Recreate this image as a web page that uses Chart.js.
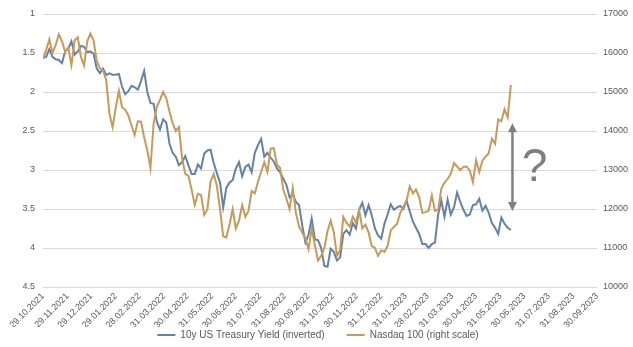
<!DOCTYPE html>
<html>
<head>
<meta charset="utf-8">
<script src="https://cdn.jsdelivr.net/npm/chart.js@4/dist/chart.umd.min.js"></script>
<style>
  body { margin: 0; background: #fff; }
  #wrap { width: 633px; height: 347px; }
</style>
</head>
<body>
<div id="wrap"><canvas id="chart" width="633" height="347"></canvas></div>
<script>
// day offsets from 29.10.2021
let days = [
  0, 4, 8, 12, 16, 20, 24, 28, 32, 36,
  40, 44, 48, 52, 56, 60, 64, 68, 72, 76,
  80, 84, 88, 92, 96, 100, 104, 108, 112, 116,
  120, 124, 128, 132, 136, 140, 144, 148, 152, 156,
  160, 164, 168, 172, 176, 180, 184, 188, 192, 196,
  200, 204, 208, 212, 216, 220, 224, 228, 232, 236,
  240, 244, 248, 252, 256, 260, 264, 268, 272, 276,
  280, 284, 288, 292, 296, 300, 304, 308, 312, 316,
  320, 324, 328, 332, 336, 340, 344, 348, 352, 356,
  360, 364, 368, 372, 376, 380, 384, 388, 392, 396,
  400, 404, 408, 412, 416, 420, 424, 428, 432, 436,
  440, 444, 448, 452, 456, 460, 464, 468, 472, 476,
  480, 484, 488, 492, 496, 500, 504, 508, 512, 516,
  520, 524, 528, 532, 536, 540, 544, 548, 552, 556,
  560, 564, 568, 572, 576, 580, 584, 588, 592
];

// 10y US Treasury yield, %
let yields = [
  1.56, 1.55, 1.45, 1.55, 1.58, 1.59, 1.63, 1.48, 1.44, 1.35,
  1.52, 1.48, 1.41, 1.42, 1.49, 1.48, 1.51, 1.70, 1.76, 1.70,
  1.78, 1.76, 1.78, 1.78, 1.77, 1.93, 2.03, 1.99, 1.92, 1.94,
  1.97, 1.86, 1.73, 2.00, 2.14, 2.15, 2.38, 2.48, 2.35, 2.39,
  2.66, 2.78, 2.83, 2.94, 2.90, 2.82, 2.94, 3.05, 3.05, 2.93,
  2.98, 2.79, 2.75, 2.74, 2.91, 3.04, 3.16, 3.48, 3.23, 3.16,
  3.13, 2.98, 2.90, 3.08, 2.96, 2.93, 3.03, 2.78, 2.68, 2.60,
  2.83, 2.78, 2.84, 2.89, 2.98, 3.03, 3.11, 3.19, 3.35, 3.31,
  3.41, 3.45, 3.71, 3.93, 3.83, 3.62, 3.89, 3.90, 4.00, 4.23,
  4.24, 4.01, 4.05, 4.16, 4.12, 3.82, 3.77, 3.83, 3.68, 3.75,
  3.51, 3.42, 3.58, 3.45, 3.58, 3.75, 3.84, 3.88, 3.69, 3.57,
  3.44, 3.51, 3.48, 3.46, 3.50, 3.39, 3.53, 3.66, 3.74, 3.82,
  3.95, 3.95, 4.00, 3.95, 3.93, 3.57, 3.39, 3.60, 3.38, 3.57,
  3.48, 3.29, 3.41, 3.51, 3.59, 3.57, 3.45, 3.44, 3.37, 3.52,
  3.46, 3.55, 3.68, 3.74, 3.82, 3.61, 3.69, 3.74, 3.77
];

// Nasdaq 100 index level
let nasdaq = [
  15850, 16080, 16350, 16000, 16200, 16480, 16300, 16030, 16135, 15690,
  16320, 16400, 15900, 15680, 16300, 16500, 16320, 15790, 15600, 15560,
  15300, 14450, 14100, 14590, 15030, 14610, 14550, 14400, 14140, 13900,
  14250, 14240, 13840, 13500, 13050, 14200, 14620, 14800, 15000, 14840,
  14500, 14200, 14000, 14100, 13300, 12900, 12850, 12500, 12100, 12390,
  12360, 11850, 11990, 12700, 12900, 12600, 12000, 11300, 11270, 11600,
  12000, 11500, 11700, 12100, 11800, 11950, 12460, 12400, 12700, 12950,
  13200, 12950, 13550, 13560, 13140, 13050, 12500, 12270, 12000, 12540,
  11900, 11550, 11400, 11250, 10970, 11500, 11070, 10680, 10800, 11000,
  11430, 11700, 11400, 10800, 10950, 11800, 11650, 11550, 11800, 11650,
  11970, 11500, 11600, 11400, 11050, 11000, 10800, 10940, 10900, 11050,
  11450, 11540, 11620, 11900, 12050, 12200, 12580, 12400, 12500, 12300,
  11900, 11920, 11960, 12350, 11950, 11980, 12520, 12680, 12770, 12900,
  13180, 13090, 13000, 13080, 13090, 12980, 12690, 13250, 12950, 13240,
  13340, 13430, 13800, 13670, 14300, 14250, 14560, 14350, 15180
];

// month-end ticks on the x axis
let tickDays = [0, 31, 61, 92, 122, 153, 183, 214, 244, 275, 306, 336,
  367, 397, 428, 459, 487, 518, 548, 579, 609, 640, 671, 701];
let tickLabels = ["29.10.2021", "29.11.2021", "29.12.2021", "29.01.2022", "28.02.2022",
  "31.03.2022", "30.04.2022", "31.05.2022", "30.06.2022", "31.07.2022", "31.08.2022",
  "30.09.2022", "31.10.2022", "30.11.2022", "31.12.2022", "31.01.2023", "28.02.2023",
  "31.03.2023", "30.04.2023", "31.05.2023", "30.06.2023", "31.07.2023", "31.08.2023",
  "30.09.2023"];

let seriesNames = ["10y US Treasury Yield (inverted)", "Nasdaq 100 (right scale)"];
let colors = ["#6482a8", "#c69a5a"];
let textColor = "#595959";
let gridColor = "#d9d9d9";

// arrow + question mark (in x days / right scale units)
let arrowDay = 594;
let arrowTop = 14200;
let arrowBottom = 11950;
let questionDay = 622;
let questionLevel = 13050;

let gapMarker = {
  id: "gapMarker",
  afterDatasetsDraw(chart) {
    let c = chart.ctx;
    let x = chart.scales.x.getPixelForValue(arrowDay);
    let yT = chart.scales.y1.getPixelForValue(arrowTop);
    let yB = chart.scales.y1.getPixelForValue(arrowBottom);
    c.save();
    c.strokeStyle = "#7f7f7f";
    c.fillStyle = "#7f7f7f";
    c.lineWidth = 2.5;
    c.beginPath();
    c.moveTo(x, yT + 6);
    c.lineTo(x, yB - 6);
    c.stroke();
    c.beginPath();
    c.moveTo(x, yT);
    c.lineTo(x - 4.5, yT + 9);
    c.lineTo(x + 4.5, yT + 9);
    c.closePath();
    c.fill();
    c.beginPath();
    c.moveTo(x, yB);
    c.lineTo(x - 4.5, yB - 9);
    c.lineTo(x + 4.5, yB - 9);
    c.closePath();
    c.fill();
    c.font = "46px 'Liberation Sans', Arial, sans-serif";
    c.textAlign = "center";
    c.textBaseline = "middle";
    c.fillText("?", chart.scales.x.getPixelForValue(questionDay), chart.scales.y1.getPixelForValue(questionLevel));
    c.restore();
  }
};

// legend needs a wide gap between items but sits close under the dates
let legendLift = {
  id: "legendLift",
  afterLayout(chart) {
    chart.legend.top -= 19;
    chart.legend.left += 3;
  }
};

let tickFont = { family: "'Liberation Sans', Arial, sans-serif", size: 9 };

new Chart(document.getElementById("chart"), {
  type: "line",
  data: {
    datasets: [
      {
        label: seriesNames[0],
        data: days.map((d, i) => ({ x: d, y: yields[i] })),
        borderColor: colors[0],
        backgroundColor: colors[0],
        borderWidth: 2,
        pointRadius: 0,
        tension: 0,
        yAxisID: "y",
        order: 1
      },
      {
        label: seriesNames[1],
        data: days.map((d, i) => ({ x: d, y: nasdaq[i] })),
        borderColor: colors[1],
        backgroundColor: colors[1],
        borderWidth: 2,
        pointRadius: 0,
        tension: 0,
        yAxisID: "y1",
        order: 0
      }
    ]
  },
  options: {
    responsive: false,
    animation: false,
    devicePixelRatio: 1,
    layout: { padding: { top: 14, right: 0, bottom: 0, left: 0 } },
    plugins: {
      tooltip: { enabled: false },
      legend: {
        position: "bottom",
        maxHeight: 20,
        labels: {
          color: textColor,
          font: { family: "'Liberation Sans', Arial, sans-serif", size: 10 },
          usePointStyle: true,
          pointStyle: "line",
          pointStyleWidth: 18,
          padding: 22,
          sort: (a, b) => a.datasetIndex - b.datasetIndex
        }
      }
    },
    scales: {
      x: {
        type: "linear",
        min: 0,
        max: 701,
        grid: { display: false, drawTicks: false },
        border: { display: false },
        afterBuildTicks: (scale) => {
          scale.ticks = tickDays.map(v => ({ value: v }));
        },
        afterFit: (scale) => { scale.height = 40; },
        ticks: {
          autoSkip: false,
          minRotation: 45,
          maxRotation: 45,
          padding: 4,
          color: textColor,
          font: tickFont,
          callback: (v, i) => tickLabels[i]
        }
      },
      y: {
        position: "left",
        reverse: true,
        min: 1,
        max: 4.5,
        grid: { color: gridColor, drawTicks: false },
        border: { display: false },
        afterFit: (scale) => { scale.width = 43; },
        ticks: {
          stepSize: 0.5,
          padding: 8,
          color: textColor,
          font: tickFont,
          callback: (v) => String(v)
        }
      },
      y1: {
        position: "right",
        min: 10000,
        max: 17000,
        grid: { drawOnChartArea: false, drawTicks: false },
        border: { display: false },
        afterFit: (scale) => { scale.width = 36; },
        ticks: {
          stepSize: 1000,
          padding: 6,
          color: textColor,
          font: tickFont,
          callback: (v) => String(v)
        }
      }
    }
  },
  plugins: [gapMarker, legendLift]
});
</script>
</body>
</html>
